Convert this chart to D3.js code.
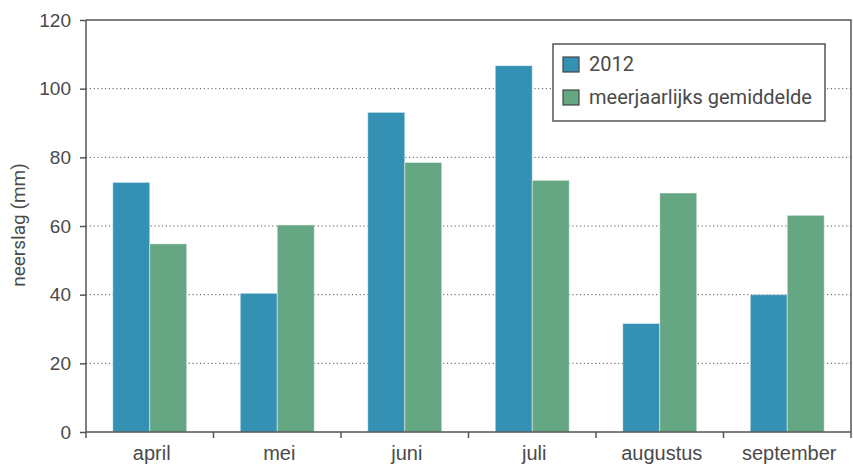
<!DOCTYPE html>
<html lang="nl">
<head>
  <meta charset="UTF-8" />
  <title>Neerslag 2012</title>
  <script src="https://d3js.org/d3.v7.min.js"></script>
  <style>
    body { margin: 0; background: #fff; }
    svg { display: block; font-family: 'Roboto', 'DejaVu Sans', sans-serif; }
    .axis text { fill: #4a4a4a; }
    .axis path, .axis line { stroke: #555; stroke-width: 1.5px; }
    .grid line { stroke: #555; stroke-width: 1px; stroke-dasharray: 1.2,2.6; }
  </style>
</head>
<body>
<svg width="853" height="468"></svg>
<script>
  // data
  const months = ["april", "mei", "juni", "juli", "augustus", "september"];
  const rain2012 = [72.7, 40.4, 93.1, 106.7, 31.6, 40.0];
  const rainAvg = [54.8, 60.3, 78.5, 73.3, 69.6, 63.1];
  const seriesNames = ["2012", "meerjaarlijks gemiddelde"];
  const yTicks = [0, 20, 40, 60, 80, 100, 120];

  const colors = ["#3591b3", "#64a782"];

  const svg = d3.select("svg");
  const margin = { top: 20, right: 2, bottom: 36, left: 86 };
  const width = 853 - margin.left - margin.right;
  const height = 468 - margin.top - margin.bottom;

  const g = svg.append("g").attr("transform", `translate(${margin.left},${margin.top})`);

  const x = d3.scaleBand().domain(months).range([0, width])
    .paddingInner(0.42).paddingOuter(0.21);
  const xSub = d3.scaleBand().domain([0, 1]).range([0, x.bandwidth()]);
  const y = d3.scaleLinear().domain([0, 120]).range([height, 0]);

  // dotted gridlines
  g.append("g").attr("class", "grid")
    .selectAll("line")
    .data(yTicks.filter(t => t > 0 && t < 120))
    .enter().append("line")
    .attr("x1", 0).attr("x2", width)
    .attr("y1", d => y(d)).attr("y2", d => y(d));

  // bars
  const rows = months.map((m, i) => ({ month: m, values: [rain2012[i], rainAvg[i]] }));
  const group = g.append("g").selectAll("g")
    .data(rows)
    .enter().append("g")
    .attr("transform", d => `translate(${x(d.month)},0)`);

  group.selectAll("rect")
    .data(d => d.values.map((v, k) => ({ v, k })))
    .enter().append("rect")
    .attr("x", d => xSub(d.k))
    .attr("width", xSub.bandwidth())
    .attr("y", d => y(d.v))
    .attr("height", d => height - y(d.v))
    .attr("fill", d => colors[d.k])
    .attr("stroke", "rgba(255,255,255,0.45)")
    .attr("stroke-width", 1);

  // y axis
  const yAxis = g.append("g").attr("class", "axis")
    .call(d3.axisLeft(y).tickValues(yTicks).tickSize(6).tickPadding(9));
  yAxis.select(".domain").attr("d", `M0,${height}V0`);
  yAxis.selectAll("text").attr("font-size", 19);

  // x axis with ticks at band edges
  const xAxis = g.append("g").attr("class", "axis")
    .attr("transform", `translate(0,${height})`)
    .call(d3.axisBottom(x).tickSize(0).tickPadding(14));
  xAxis.select(".domain").attr("d", `M0,0H${width}`);
  xAxis.selectAll("text").attr("font-size", 20).attr("dx", 2);
  xAxis.selectAll(".edge")
    .data(d3.range(months.length + 1))
    .enter().append("line")
    .attr("class", "edge")
    .attr("x1", i => i * x.step()).attr("x2", i => i * x.step())
    .attr("y1", 0).attr("y2", 6);

  // frame top and right
  g.append("path")
    .attr("d", `M0,0H${width}V${height}`)
    .attr("fill", "none").attr("stroke", "#555").attr("stroke-width", 1.5);

  // y label
  svg.append("text")
    .attr("transform", "translate(25,225) rotate(-90)")
    .attr("text-anchor", "middle")
    .attr("fill", "#4a4a4a")
    .attr("font-size", 19)
    .text("neerslag (mm)");

  // legend
  const legend = svg.append("g").attr("transform", "translate(553,44)");
  legend.append("rect")
    .attr("width", 272).attr("height", 77)
    .attr("fill", "#fff").attr("stroke", "#555").attr("stroke-width", 1.5);
  seriesNames.forEach((name, i) => {
    legend.append("rect")
      .attr("x", 10).attr("y", 13 + i * 33)
      .attr("width", 16).attr("height", 15)
      .attr("fill", colors[i]).attr("stroke", "#444").attr("stroke-width", 1.2);
    legend.append("text")
      .attr("x", 36).attr("y", 27 + i * 33)
      .attr("fill", "#4a4a4a").attr("font-size", 20)
      .text(name);
  });
</script>
</body>
</html>
